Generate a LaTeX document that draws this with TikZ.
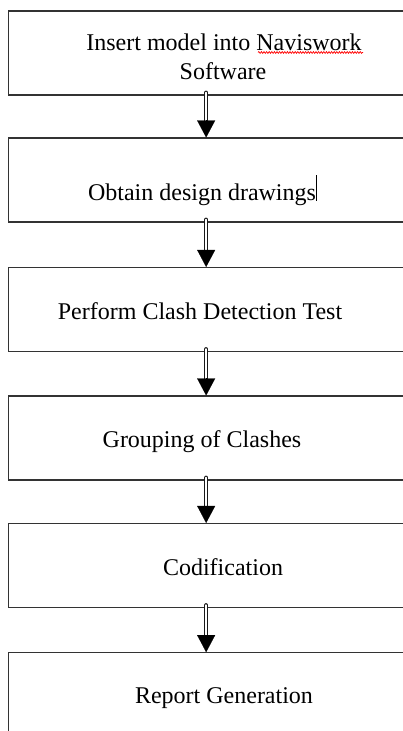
\documentclass[tikz,border=0pt]{standalone}
\usepackage{fontspec}
\setmainfont{Liberation Serif}
\usetikzlibrary{arrows.meta,decorations.pathmorphing}
\begin{document}
\begin{tikzpicture}[x=1pt, y=-1pt,
  box/.style={draw=black!80, line width=1.1pt, minimum width=395.7pt, minimum height=84pt, inner sep=0pt},
  lbl/.style={anchor=base, inner sep=0pt, font=\fontsize{24}{29}\selectfont},
  shaft/.style={draw=black!90, line width=1.2pt, double=white, double distance=1.5pt, line cap=round},
  head/.style={-{Triangle[width=18pt,length=17pt]}, line width=0.1pt}]
\useasboundingbox (0,0) rectangle (402,731);
\node [box] (0) at (206.15, 53) {};
\node [box] (1) at (206.15, 180) {};
\node [box] (2) at (206.15, 309.5) {};
\node [box] (3) at (206.15, 438) {};
\node [box] (4) at (206.15, 565.5) {};
\node [box] (5) at (206.15, 694.7) {};

\node [lbl] (6) at (224, 50) {Insert model into Naviswork};
\node [lbl] (7) at (223, 79) {Software};
\node [lbl] (8) at (202, 200.5) {Obtain design drawings};
\node [lbl] (9) at (200, 319.5) {Perform Clash Detection Test};
\node [lbl] (10) at (202, 447) {Grouping of Clashes};
\node [lbl] (11) at (223, 575) {Codification};
\node [lbl] (12) at (224, 703.5) {Report Generation};

\foreach \a/\b in {0/1, 1/2, 2/3, 3/4, 4/5} {
  \draw [shaft] ([yshift=3pt]\a.south) to ([yshift=16pt]\b.north);
  \draw [head] ([yshift=17pt]\b.north) to (\b.north);
}

% spell check mark and cursor
\draw [red, line width=0.7pt, decorate, decoration={snake, amplitude=0.9pt, segment length=2.6pt}] (258,52.5) -- (363,52.5);
\draw [line width=0.9pt] (316.5,175) -- (316.5,201);
\end{tikzpicture}
\end{document}
